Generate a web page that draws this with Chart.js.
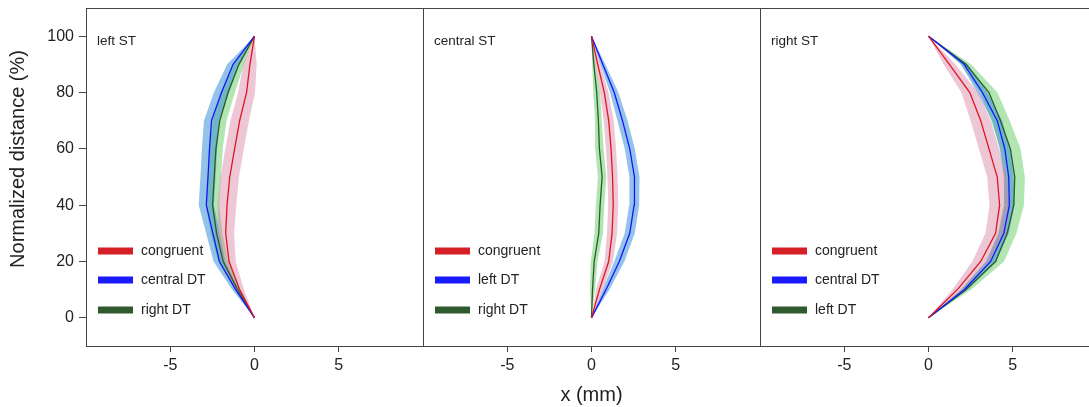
<!DOCTYPE html>
<html>
<head>
<meta charset="utf-8">
<script src="https://cdn.jsdelivr.net/npm/chart.js@4.4.0/dist/chart.umd.min.js"></script>
<style>
html, body { margin: 0; padding: 0; background: #fff; overflow: hidden; width: 1089px; height: 407px; }
.panel { position: absolute; top: 0; height: 407px; }
</style>
</head>
<body>
<div class="panel" style="left:0;width:424px"><canvas id="c0"></canvas></div>
<div class="panel" style="left:423px;width:338px"><canvas id="c1"></canvas></div>
<div class="panel" style="left:760px;width:338px"><canvas id="c2"></canvas></div>
<script>
// normalized distance levels (%)
const levels = [0, 10, 20, 30, 40, 50, 60, 70, 80, 90, 100];
const xTicks = [-5, 0, 5];
const yTicks = [0, 20, 40, 60, 80, 100];
const panelTitles = ['left ST', 'central ST', 'right ST'];
const yTitle = 'Normalized distance (%)';
const xTitle = 'x (mm)';
const seriesNames = [
  ['congruent', 'central DT', 'right DT'],
  ['congruent', 'left DT', 'right DT'],
  ['congruent', 'central DT', 'left DT']
];

// mean x (mm) at each level
const leftCongruent  = [0, -0.88, -1.51, -1.71, -1.63, -1.47, -1.18, -0.88, -0.47, -0.27, 0];
const leftCentralDT  = [0, -1.12, -2.08, -2.47, -2.86, -2.76, -2.67, -2.55, -1.96, -1.27, 0];
const leftRightDT    = [0, -1.0, -1.86, -2.25, -2.49, -2.39, -2.29, -2.06, -1.57, -0.92, 0];
const centralCongruent = [0, 0.47, 1.02, 1.22, 1.29, 1.25, 1.16, 1.02, 0.76, 0.37, 0];
const centralLeftDT    = [0, 0.86, 1.65, 2.27, 2.53, 2.55, 2.27, 1.84, 1.35, 0.67, 0];
const centralRightDT   = [0, 0.06, 0.16, 0.43, 0.51, 0.63, 0.47, 0.41, 0.31, 0.14, 0];
const rightCongruent = [0, 1.71, 3.1, 3.98, 4.22, 4.08, 3.59, 3.1, 2.45, 1.24, 0];
const rightCentralDT = [0, 2.12, 3.69, 4.47, 4.8, 4.76, 4.53, 4.08, 3.2, 2.12, 0];
const rightLeftDT    = [0, 2.22, 3.98, 4.67, 5.06, 5.12, 4.86, 4.27, 3.59, 2.22, 0];

// half-width of the shaded band (mm)
const leftCongruentSd  = [0, 0.25, 0.4, 0.5, 0.55, 0.55, 0.55, 0.55, 0.5, 0.4, 0];
const leftCentralDTSd  = [0, 0.2, 0.35, 0.4, 0.45, 0.45, 0.45, 0.45, 0.45, 0.35, 0];
const leftRightDTSd    = [0, 0.15, 0.3, 0.35, 0.4, 0.4, 0.4, 0.4, 0.4, 0.3, 0];
const centralCongruentSd = [0, 0.2, 0.25, 0.3, 0.3, 0.3, 0.3, 0.3, 0.25, 0.15, 0];
const centralLeftDTSd    = [0, 0.2, 0.3, 0.3, 0.3, 0.3, 0.3, 0.3, 0.25, 0.15, 0];
const centralRightDTSd   = [0, 0.15, 0.2, 0.25, 0.25, 0.25, 0.25, 0.2, 0.2, 0.1, 0];
const rightCongruentSd = [0, 0.3, 0.5, 0.6, 0.6, 0.6, 0.6, 0.6, 0.5, 0.35, 0];
const rightCentralDTSd = [0, 0.2, 0.3, 0.3, 0.3, 0.3, 0.3, 0.3, 0.3, 0.2, 0];
const rightLeftDTSd    = [0, 0.3, 0.5, 0.55, 0.6, 0.6, 0.6, 0.55, 0.5, 0.3, 0];

const panelMeans = [
  [leftCongruent, leftCentralDT, leftRightDT],
  [centralCongruent, centralLeftDT, centralRightDT],
  [rightCongruent, rightCentralDT, rightLeftDT]
];
const panelSds = [
  [leftCongruentSd, leftCentralDTSd, leftRightDTSd],
  [centralCongruentSd, centralLeftDTSd, centralRightDTSd],
  [rightCongruentSd, rightCentralDTSd, rightLeftDTSd]
];

const lineColors = ['#e0141e', '#1414ff', '#2c5a2c'];
const legendColors = ['#d61e26', '#1a1aff', '#2e5a2e'];
const bandColors = ['rgba(214,130,165,0.45)', 'rgba(60,145,215,0.55)', 'rgba(100,205,100,0.5)'];

const FONT = 'Liberation Sans, Arial, Helvetica, sans-serif';

function pts(xs, ys) {
  return xs.map((x, i) => ({ x: x, y: ys[i] }));
}

function buildDatasets(p) {
  const ds = [];
  for (let s = 0; s < 3; s++) {
    const m = panelMeans[p][s];
    const sd = panelSds[p][s];
    const lo = m.map((v, i) => v - sd[i]);
    const hi = m.map((v, i) => v + sd[i]);
    ds.push({ label: 'lo', data: pts(lo, levels), borderWidth: 0, pointRadius: 0,
      fill: '+1', backgroundColor: bandColors[s], order: 10 + s });
    ds.push({ label: 'hi', data: pts(hi, levels), borderWidth: 0, pointRadius: 0,
      fill: false, order: 10 + s });
  }
  for (let s = 0; s < 3; s++) {
    ds.push({ label: seriesNames[p][s], data: pts(panelMeans[p][s], levels),
      borderColor: lineColors[s], borderWidth: 1.3, pointRadius: 0, fill: false, order: s });
  }
  return ds;
}

// frame, panel title, legend and the y title
const decorations = {
  id: 'decorations',
  afterDatasetsDraw(chart, args, opts) {
    const ctx = chart.ctx;
    const a = chart.chartArea;
    ctx.save();
    ctx.strokeStyle = '#444';
    ctx.lineWidth = 1;
    ctx.strokeRect(Math.round(a.left) + 0.5, Math.round(a.top) + 0.5,
      Math.round(a.right - a.left), Math.round(a.bottom - a.top));
    ctx.fillStyle = '#222';
    ctx.textBaseline = 'middle';
    ctx.font = '13.5px ' + FONT;
    ctx.fillText(panelTitles[opts.panel], a.left + 11, 41);
    ctx.font = '14px ' + FONT;
    const rowY = [251, 280, 310];
    for (let s = 0; s < 3; s++) {
      ctx.fillStyle = legendColors[s];
      ctx.fillRect(a.left + 12, rowY[s] - 3.5, 35, 7);
      ctx.fillStyle = '#222';
      ctx.fillText(seriesNames[opts.panel][s], a.left + 55, rowY[s]);
    }
    if (opts.panel === 0) {
      ctx.translate(18, 159);
      ctx.rotate(-Math.PI / 2);
      ctx.textAlign = 'center';
      ctx.font = '20px ' + FONT;
      ctx.fillText(yTitle, 0, 0);
    }
    ctx.restore();
  }
};

function makeChart(p) {
  new Chart(document.getElementById('c' + p), {
    type: 'line',
    data: { datasets: buildDatasets(p) },
    plugins: [decorations],
    options: {
      indexAxis: 'y',
      responsive: true,
      maintainAspectRatio: false,
      animation: false,
      layout: { padding: { top: 8, right: 1, left: 0, bottom: 0 } },
      elements: { line: { tension: 0 } },
      plugins: {
        legend: { display: false },
        tooltip: { enabled: false },
        decorations: { panel: p }
      },
      scales: {
        x: {
          type: 'linear', min: -10, max: 10,
          afterBuildTicks: (scale) => { scale.ticks = xTicks.map(v => ({ value: v })); },
          afterFit: (scale) => { scale.height = 61; scale.paddingLeft = 0; scale.paddingRight = 0; },
          grid: { drawOnChartArea: false, drawTicks: true, tickLength: 6, color: '#444' },
          border: { display: false },
          ticks: { font: { size: 16, family: FONT }, color: '#222', padding: 4, maxRotation: 0 },
          title: { display: p === 1, text: xTitle, font: { size: 20, family: FONT },
            color: '#222', padding: 0 }
        },
        y: {
          type: 'linear', min: -10, max: 110,
          display: p === 0,
          afterBuildTicks: (scale) => { scale.ticks = yTicks.map(v => ({ value: v })); },
          afterFit: (scale) => {
            scale.width = p === 0 ? 86 : 0;
            scale.paddingTop = 0;
            scale.paddingBottom = 0;
          },
          grid: { drawOnChartArea: false, drawTicks: true, tickLength: 7, color: '#444' },
          border: { display: false },
          ticks: { font: { size: 16, family: FONT }, color: '#222', padding: 5 },
          title: { display: false }
        }
      }
    }
  });
}

for (let p = 0; p < 3; p++) makeChart(p);
</script>
</body>
</html>
